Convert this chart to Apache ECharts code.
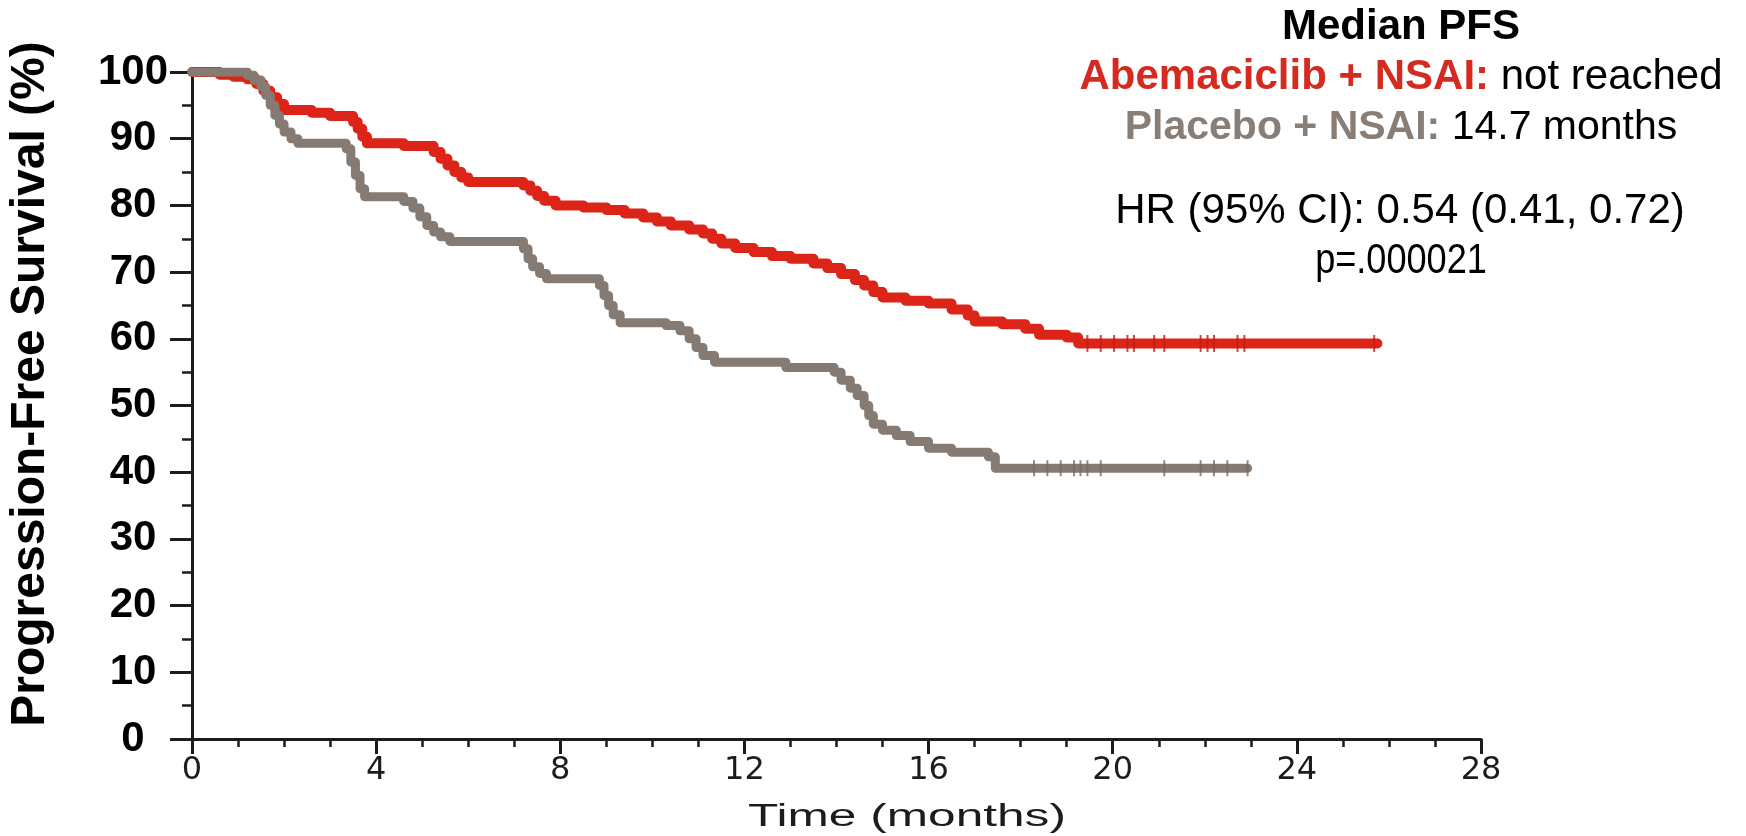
<!DOCTYPE html>
<html>
<head>
<meta charset="utf-8">
<title>Progression-Free Survival</title>
<script src="https://cdn.jsdelivr.net/npm/echarts@6/dist/echarts.min.js"></script>
<style>
  html, body { margin: 0; padding: 0; background: #ffffff; }
  #chart { width: 1746px; height: 836px; }
</style>
</head>
<body>
<div id="chart"></div>
<script>
// Kaplan-Meier step points: [time in months, progression-free survival %]
const abemaciclibCurve = [
  [0, 100], [0.6, 99.6], [0.9, 99.3], [1.2, 98.9], [1.4, 98.2], [1.55, 97.2], [1.7, 96.2],
  [1.85, 95.2], [2.0, 94.3], [2.6, 93.9], [3.0, 93.4], [3.5, 92.5], [3.6, 91.5], [3.7, 90.3],
  [3.8, 89.3], [4.6, 88.9], [5.25, 88.0], [5.4, 87.0], [5.55, 86.0], [5.7, 85.0], [5.85, 84.2],
  [6.0, 83.5], [7.2, 83.0], [7.35, 82.2], [7.5, 81.4], [7.65, 80.7], [7.9, 80.0], [8.5, 79.7],
  [9.0, 79.3], [9.4, 78.8], [9.8, 78.2], [10.1, 77.6], [10.4, 77.0], [10.8, 76.4], [11.1, 75.8],
  [11.3, 75.0], [11.5, 74.3], [11.8, 73.6], [12.2, 73.0], [12.6, 72.4], [13.0, 72.0], [13.5, 71.3],
  [13.8, 70.6], [14.1, 69.7], [14.4, 68.8], [14.6, 68.0], [14.8, 67.0], [15.0, 66.2], [15.5, 65.7],
  [16.0, 65.3], [16.5, 64.4], [16.85, 63.5], [17.0, 62.6], [17.6, 62.2], [18.1, 61.5], [18.4, 60.6],
  [19.0, 60.2], [19.25, 59.3], [25.75, 59.3]
];
const placeboCurve = [
  [0, 100], [1.2, 99.5], [1.35, 98.8], [1.5, 97.8], [1.6, 96.5], [1.7, 95.0], [1.8, 93.5],
  [1.9, 92.2], [2.0, 91.0], [2.15, 90.0], [2.3, 89.3], [3.35, 88.5], [3.45, 86.5], [3.55, 84.5],
  [3.65, 82.5], [3.75, 81.3], [4.6, 80.6], [4.8, 79.6], [4.95, 78.3], [5.1, 77.0], [5.25, 76.0],
  [5.4, 75.3], [5.6, 74.6], [7.2, 73.5], [7.3, 72.0], [7.4, 70.8], [7.55, 69.8], [7.7, 69.0],
  [8.85, 68.0], [8.95, 66.5], [9.05, 65.0], [9.15, 63.6], [9.3, 62.4], [10.3, 62.0], [10.6, 61.2],
  [10.8, 60.0], [10.95, 58.7], [11.1, 57.5], [11.35, 56.5], [12.9, 55.7], [13.95, 55.0], [14.1, 53.8],
  [14.3, 52.6], [14.45, 51.5], [14.6, 50.0], [14.7, 48.5], [14.8, 47.2], [15.0, 46.3], [15.3, 45.5],
  [15.6, 44.6], [16.0, 43.6], [16.5, 43.0], [17.3, 42.3], [17.45, 40.6], [22.93, 40.6]
];
// Censored observations: [time in months, survival %]
const abemaciclibCensored = [
  [19.45, 59.3], [19.74, 59.3], [20.03, 59.3], [20.32, 59.3], [20.46, 59.3], [20.9, 59.3],
  [21.12, 59.3], [21.91, 59.3], [22.06, 59.3], [22.2, 59.3], [22.71, 59.3], [22.86, 59.3], [25.68, 59.3]
];
const placeboCensored = [
  [18.29, 40.6], [18.58, 40.6], [18.87, 40.6], [19.16, 40.6], [19.3, 40.6], [19.45, 40.6],
  [19.74, 40.6], [21.12, 40.6], [21.91, 40.6], [22.2, 40.6], [22.49, 40.6], [22.93, 40.6]
];

const timeRange = { min: 0, max: 28, step: 4 };
const survivalRange = { min: 0, max: 100, step: 10 };

const annotationLines = {
  title: 'Median PFS',
  abemaLabel: 'Abemaciclib + NSAI:',
  abemaValue: ' not reached',
  placeboLabel: 'Placebo + NSAI:',
  placeboValue: ' 14.7 months',
  hazard: 'HR (95% CI): 0.54 (0.41, 0.72)',
  pValue: 'p=.000021'
};

const RED = '#dc2419';
const GREY = '#857b72';
const RED_TEXT = '#d42a20';
const GREY_TEXT = '#887e75';
const INK = '#1c1c1c';
const FONT = "'Liberation Sans', Arial, sans-serif";

const chart = echarts.init(document.getElementById('chart'), null, { renderer: 'canvas' });

chart.setOption({
  backgroundColor: '#ffffff',
  animation: false,
  grid: { left: 192, right: 265, top: 72, bottom: 97, containLabel: false },
  xAxis: {
    type: 'value',
    min: timeRange.min,
    max: timeRange.max,
    interval: timeRange.step,
    axisLine: { show: true, onZero: false, lineStyle: { color: INK, width: 3 } },
    axisTick: { show: true, inside: false, length: 15, lineStyle: { color: INK, width: 3 } },
    minorTick: { show: true, splitNumber: 4, length: 8, lineStyle: { color: INK, width: 2.5 } },
    splitLine: { show: false },
    axisLabel: {
      color: INK, fontFamily: "'DejaVu Sans', sans-serif", fontSize: 32, margin: 16
    }
  },
  yAxis: {
    type: 'value',
    min: survivalRange.min,
    max: survivalRange.max,
    interval: survivalRange.step,
    axisLine: { show: true, onZero: false, lineStyle: { color: INK, width: 3 } },
    axisTick: { show: true, inside: false, length: 22, lineStyle: { color: INK, width: 3 } },
    minorTick: { show: true, splitNumber: 2, length: 10, lineStyle: { color: INK, width: 2.5 } },
    splitLine: { show: false },
    axisLabel: {
      color: '#000000', fontFamily: FONT, fontWeight: 'bold', fontSize: 42,
      align: 'center', margin: 59
    }
  },
  series: [
    {
      name: 'Abemaciclib + NSAI',
      type: 'line',
      step: 'end',
      data: abemaciclibCurve,
      showSymbol: false,
      lineStyle: { color: RED, width: 10, cap: 'round', join: 'round' },
      z: 3
    },
    {
      name: 'Abemaciclib + NSAI censored',
      type: 'scatter',
      data: abemaciclibCensored,
      symbol: 'rect',
      symbolSize: [2, 17],
      itemStyle: { color: '#c01d14' },
      z: 4
    },
    {
      name: 'Placebo + NSAI',
      type: 'line',
      step: 'end',
      data: placeboCurve,
      showSymbol: false,
      lineStyle: { color: GREY, width: 9, cap: 'round', join: 'round' },
      z: 5
    },
    {
      name: 'Placebo + NSAI censored',
      type: 'scatter',
      data: placeboCensored,
      symbol: 'rect',
      symbolSize: [2, 16],
      itemStyle: { color: '#766c64' },
      z: 6
    }
  ],
  graphic: [
    {
      type: 'text', x: 31, y: 384, rotation: Math.PI / 2,
      style: {
        text: 'Progression-Free Survival (%)', fill: '#000000',
        font: "bold 48px 'Liberation Sans', Arial, sans-serif",
        align: 'center', verticalAlign: 'middle'
      }
    },
    {
      type: 'text', x: 907, y: 817, scaleX: 1.6,
      style: {
        text: 'Time (months)', fill: INK,
        font: "31px 'Liberation Sans', Arial, sans-serif",
        align: 'center', verticalAlign: 'middle'
      }
    },
    {
      type: 'text', x: 1401, y: 27,
      style: {
        text: annotationLines.title, fill: '#000000',
        font: "bold 42px 'Liberation Sans', Arial, sans-serif",
        align: 'center', verticalAlign: 'middle'
      }
    },
    {
      type: 'text', x: 1401, y: 77.5,
      style: {
        text: '{a|' + annotationLines.abemaLabel + '}{b|' + annotationLines.abemaValue + '}',
        align: 'center', verticalAlign: 'middle',
        rich: {
          a: { fill: RED_TEXT, fontFamily: FONT, fontWeight: 'bold', fontSize: 42 },
          b: { fill: '#000000', fontFamily: FONT, fontSize: 42 }
        }
      }
    },
    {
      type: 'text', x: 1401, y: 128,
      style: {
        text: '{a|' + annotationLines.placeboLabel + '}{b|' + annotationLines.placeboValue + '}',
        align: 'center', verticalAlign: 'middle',
        rich: {
          a: { fill: GREY_TEXT, fontFamily: FONT, fontWeight: 'bold', fontSize: 41 },
          b: { fill: '#000000', fontFamily: FONT, fontSize: 41 }
        }
      }
    },
    {
      type: 'text', x: 1400, y: 211.7,
      style: {
        text: annotationLines.hazard, fill: '#000000',
        font: "42px 'Liberation Sans', Arial, sans-serif",
        align: 'center', verticalAlign: 'middle'
      }
    },
    {
      type: 'text', x: 1401, y: 261.7, scaleX: 0.86,
      style: {
        text: annotationLines.pValue, fill: '#000000',
        font: "42px 'Liberation Sans', Arial, sans-serif",
        align: 'center', verticalAlign: 'middle'
      }
    }
  ]
});
</script>
</body>
</html>
